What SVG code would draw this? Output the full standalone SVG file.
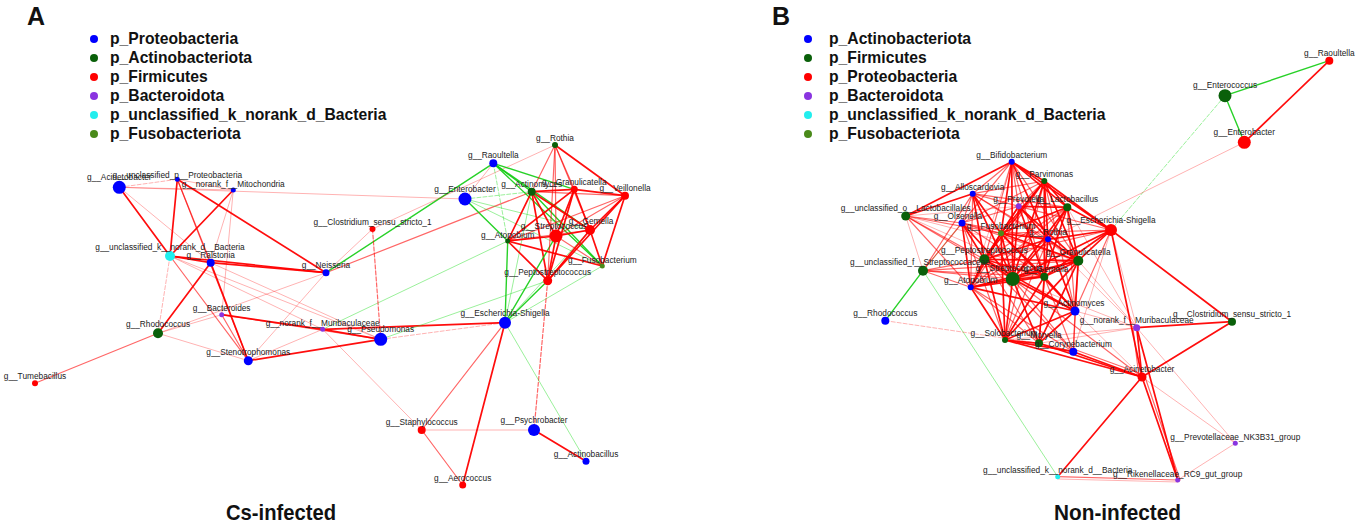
<svg xmlns="http://www.w3.org/2000/svg" width="1358" height="525" viewBox="0 0 1358 525">
<style>
text{font-family:"Liberation Sans",Arial,sans-serif;}
.lab{font-size:8.3px;fill:#222;text-anchor:middle;}
.leg{font-size:15.7px;font-weight:bold;fill:#111;}
.ttl{font-size:22px;font-weight:bold;fill:#111;}
.pl{font-size:25px;font-weight:bold;fill:#111;}
line{fill:none;stroke-linecap:round;}
.r1{stroke:#ff0000;stroke-width:1.7;stroke-opacity:0.95;}
.r2{stroke:#ff0000;stroke-width:1.2;stroke-opacity:0.6;}
.r3{stroke:#ff0000;stroke-width:1;stroke-opacity:0.3;}
.g1{stroke:#11cc11;stroke-width:1.4;stroke-opacity:0.9;}
.g2{stroke:#22dd22;stroke-width:1;stroke-opacity:0.45;}
.d{stroke-dasharray:4 2;}
.bl{fill:#0000ff;}
.dg{fill:#0a600a;}
.rd{fill:#ff0000;}
.pu{fill:#8a34e0;}
.cy{fill:#22eeee;}
.ol{fill:#4a8a1a;}
</style>
<rect width="1358" height="525" fill="#ffffff"/>

<g id="connectors">
<g id="edges-a">
<line class="r3 d" x1="119.3" y1="187.3" x2="177.3" y2="179.3"/>
<line class="r3" x1="119.3" y1="187.3" x2="233.3" y2="190"/>
<line class="r3" x1="119.3" y1="187.3" x2="465" y2="199"/>
<line class="r1" x1="119.3" y1="187.3" x2="170" y2="256"/>
<line class="r3" x1="119.3" y1="187.3" x2="210.7" y2="262.7"/>
<line class="r1" x1="177.3" y1="179.3" x2="170" y2="256"/>
<line class="r1" x1="177.3" y1="179.3" x2="326" y2="272.7"/>
<line class="r2" x1="177.3" y1="179.3" x2="210.7" y2="262.7"/>
<line class="r3" x1="177.3" y1="179.3" x2="233.3" y2="190"/>
<line class="r2" x1="177.3" y1="179.3" x2="248.3" y2="360.7"/>
<line class="r1" x1="233.3" y1="190" x2="170" y2="256"/>
<line class="r3" x1="233.3" y1="190" x2="221.7" y2="314.7"/>
<line class="r3" x1="233.3" y1="190" x2="210.7" y2="262.7"/>
<line class="r1" x1="170" y1="256" x2="210.7" y2="262.7"/>
<line class="r1" x1="170" y1="256" x2="326" y2="272.7"/>
<line class="r3 d" x1="170" y1="256" x2="158" y2="333.3"/>
<line class="r2" x1="170" y1="256" x2="248.3" y2="360.7"/>
<line class="r3" x1="170" y1="256" x2="322.7" y2="329.3"/>
<line class="r3" x1="170" y1="256" x2="380.7" y2="339.3"/>
<line class="r1" x1="210.7" y1="262.7" x2="326" y2="272.7"/>
<line class="r1" x1="210.7" y1="262.7" x2="158" y2="333.3"/>
<line class="r1" x1="210.7" y1="262.7" x2="248.3" y2="360.7"/>
<line class="r3" x1="210.7" y1="262.7" x2="380.7" y2="339.3"/>
<line class="r1" x1="221.7" y1="314.7" x2="322.7" y2="329.3"/>
<line class="r3" x1="221.7" y1="314.7" x2="158" y2="333.3"/>
<line class="r2" x1="221.7" y1="314.7" x2="248.3" y2="360.7"/>
<line class="r2" x1="221.7" y1="314.7" x2="380.7" y2="339.3"/>
<line class="r3" x1="158" y1="333.3" x2="326" y2="272.7"/>
<line class="r3" x1="158" y1="333.3" x2="248.3" y2="360.7"/>
<line class="r2" x1="158" y1="333.3" x2="35" y2="383.3"/>
<line class="r1" x1="322.7" y1="329.3" x2="380.7" y2="339.3"/>
<line class="r3" x1="322.7" y1="329.3" x2="248.3" y2="360.7"/>
<line class="r3" x1="322.7" y1="329.3" x2="421.7" y2="430"/>
<line class="r1" x1="322.7" y1="329.3" x2="505" y2="322.7"/>
<line class="g2" x1="322.7" y1="329.3" x2="507.7" y2="241"/>
<line class="r1" x1="248.3" y1="360.7" x2="380.7" y2="339.3"/>
<line class="r3" x1="248.3" y1="360.7" x2="326" y2="272.7"/>
<line class="r2" x1="326" y1="272.7" x2="531.7" y2="191.7"/>
<line class="g1" x1="326" y1="272.7" x2="493.3" y2="163.3"/>
<line class="r3" x1="326" y1="272.7" x2="372.5" y2="229"/>
<line class="r2 d" x1="372.5" y1="229" x2="380.7" y2="339.3"/>
<line class="r3" x1="372.5" y1="229" x2="555" y2="145"/>
<line class="r3 d" x1="380.7" y1="339.3" x2="505" y2="322.7"/>
<line class="g2" x1="380.7" y1="339.3" x2="547.7" y2="280.7"/>
<line class="r3" x1="465" y1="199" x2="493.3" y2="163.3"/>
<line class="g1" x1="465" y1="199" x2="507.7" y2="241"/>
<line class="g2 d" x1="465" y1="199" x2="531.7" y2="191.7"/>
<line class="g2" x1="465" y1="199" x2="590" y2="230"/>
<line class="g2" x1="465" y1="199" x2="602.3" y2="266"/>
<line class="g1" x1="493.3" y1="163.3" x2="531.7" y2="191.7"/>
<line class="g1" x1="493.3" y1="163.3" x2="574.3" y2="189.3"/>
<line class="g1" x1="493.3" y1="163.3" x2="590" y2="230"/>
<line class="g2 d" x1="493.3" y1="163.3" x2="507.7" y2="241"/>
<line class="g1" x1="493.3" y1="163.3" x2="602.3" y2="266"/>
<line class="r1" x1="531.7" y1="191.7" x2="556" y2="236"/>
<line class="r1" x1="531.7" y1="191.7" x2="590" y2="230"/>
<line class="r1" x1="531.7" y1="191.7" x2="574.3" y2="189.3"/>
<line class="r2" x1="531.7" y1="191.7" x2="625" y2="195.7"/>
<line class="r1" x1="531.7" y1="191.7" x2="547.7" y2="280.7"/>
<line class="r1" x1="531.7" y1="191.7" x2="507.7" y2="241"/>
<line class="g1" x1="531.7" y1="191.7" x2="602.3" y2="266"/>
<line class="g1" x1="505" y1="322.7" x2="556" y2="236"/>
<line class="g1" x1="505" y1="322.7" x2="547.7" y2="280.7"/>
<line class="g1" x1="505" y1="322.7" x2="507.7" y2="241"/>
<line class="g2" x1="505" y1="322.7" x2="531.7" y2="191.7"/>
<line class="g2" x1="505" y1="322.7" x2="590" y2="230"/>
<line class="g2" x1="505" y1="322.7" x2="602.3" y2="266"/>
<line class="r2" x1="555" y1="145" x2="574.3" y2="189.3"/>
<line class="r2" x1="555" y1="145" x2="556" y2="236"/>
<line class="r2" x1="555" y1="145" x2="547.7" y2="280.7"/>
<line class="r1" x1="555" y1="145" x2="625" y2="195.7"/>
<line class="r2" x1="555" y1="145" x2="590" y2="230"/>
<line class="r2" x1="555" y1="145" x2="531.7" y2="191.7"/>
<line class="r1" x1="574.3" y1="189.3" x2="625" y2="195.7"/>
<line class="r1" x1="574.3" y1="189.3" x2="556" y2="236"/>
<line class="r1" x1="574.3" y1="189.3" x2="590" y2="230"/>
<line class="r1" x1="574.3" y1="189.3" x2="507.7" y2="241"/>
<line class="r1" x1="574.3" y1="189.3" x2="547.7" y2="280.7"/>
<line class="r2" x1="625" y1="195.7" x2="556" y2="236"/>
<line class="r1" x1="625" y1="195.7" x2="590" y2="230"/>
<line class="r1" x1="625" y1="195.7" x2="602.3" y2="266"/>
<line class="r1" x1="625" y1="195.7" x2="547.7" y2="280.7"/>
<line class="r2" x1="625" y1="195.7" x2="507.7" y2="241"/>
<line class="r1" x1="556" y1="236" x2="590" y2="230"/>
<line class="r1" x1="556" y1="236" x2="507.7" y2="241"/>
<line class="r1" x1="556" y1="236" x2="547.7" y2="280.7"/>
<line class="r2" x1="556" y1="236" x2="602.3" y2="266"/>
<line class="r2" x1="590" y1="230" x2="507.7" y2="241"/>
<line class="r1" x1="590" y1="230" x2="547.7" y2="280.7"/>
<line class="r1" x1="590" y1="230" x2="602.3" y2="266"/>
<line class="r1" x1="507.7" y1="241" x2="547.7" y2="280.7"/>
<line class="r1" x1="507.7" y1="241" x2="602.3" y2="266"/>
<line class="r2 d" x1="547.7" y1="280.7" x2="534" y2="430"/>
<line class="r2" x1="505" y1="322.7" x2="421.7" y2="430"/>
<line class="r1" x1="505" y1="322.7" x2="462.7" y2="485"/>
<line class="g2" x1="505" y1="322.7" x2="586" y2="461.3"/>
<line class="r3" x1="421.7" y1="430" x2="534" y2="430"/>
<line class="r2" x1="421.7" y1="430" x2="462.7" y2="485"/>
<line class="r1" x1="534" y1="430" x2="586" y2="461.3"/>
</g>
<g id="edges-b">
<line class="g1" x1="1225" y1="95.7" x2="1329.3" y2="60.7"/>
<line class="g1" x1="1225" y1="95.7" x2="1244.3" y2="142.3"/>
<line class="r1" x1="1329.3" y1="60.7" x2="1244.3" y2="142.3"/>
<line class="g2 d" x1="1225" y1="95.7" x2="1111" y2="230"/>
<line class="r3" x1="1244.3" y1="142.3" x2="1048" y2="239.3"/>
<line class="g1" x1="885.3" y1="320.7" x2="923" y2="270.7"/>
<line class="g2" x1="923" y1="270.7" x2="1057.7" y2="476.7"/>
<line class="g2" x1="923" y1="270.7" x2="962" y2="223"/>
<line class="r3 d" x1="885.3" y1="320.7" x2="1039" y2="343.3"/>
<line class="r1" x1="1011.7" y1="161.7" x2="905.7" y2="216"/>
<line class="r2" x1="1011.7" y1="161.7" x2="972.7" y2="193.7"/>
<line class="r1" x1="1011.7" y1="161.7" x2="1044.3" y2="181"/>
<line class="r2" x1="1011.7" y1="161.7" x2="1018.7" y2="206.3"/>
<line class="r1" x1="1011.7" y1="161.7" x2="1067.3" y2="207.3"/>
<line class="r2" x1="1011.7" y1="161.7" x2="962" y2="223"/>
<line class="r1" x1="1011.7" y1="161.7" x2="1001" y2="233.3"/>
<line class="r1" x1="1011.7" y1="161.7" x2="1048" y2="239.3"/>
<line class="r2" x1="1011.7" y1="161.7" x2="984.3" y2="259.3"/>
<line class="r1" x1="1011.7" y1="161.7" x2="1012.7" y2="279"/>
<line class="r2" x1="1011.7" y1="161.7" x2="1044.3" y2="276.7"/>
<line class="r2" x1="1011.7" y1="161.7" x2="1078.3" y2="260.7"/>
<line class="r1" x1="1011.7" y1="161.7" x2="1111" y2="230"/>
<line class="r3" x1="1011.7" y1="161.7" x2="970.7" y2="287.3"/>
<line class="r2" x1="1044.3" y1="181" x2="972.7" y2="193.7"/>
<line class="r2" x1="1044.3" y1="181" x2="1018.7" y2="206.3"/>
<line class="r1" x1="1044.3" y1="181" x2="1067.3" y2="207.3"/>
<line class="r1" x1="1044.3" y1="181" x2="1001" y2="233.3"/>
<line class="r1" x1="1044.3" y1="181" x2="1048" y2="239.3"/>
<line class="r1" x1="1044.3" y1="181" x2="984.3" y2="259.3"/>
<line class="r1" x1="1044.3" y1="181" x2="1012.7" y2="279"/>
<line class="r1" x1="1044.3" y1="181" x2="1044.3" y2="276.7"/>
<line class="r1" x1="1044.3" y1="181" x2="1078.3" y2="260.7"/>
<line class="r1" x1="1044.3" y1="181" x2="1111" y2="230"/>
<line class="r2" x1="1044.3" y1="181" x2="970.7" y2="287.3"/>
<line class="r2" x1="1044.3" y1="181" x2="962" y2="223"/>
<line class="r2" x1="1044.3" y1="181" x2="1075" y2="311"/>
<line class="r2" x1="1044.3" y1="181" x2="1005" y2="340"/>
<line class="r1" x1="972.7" y1="193.7" x2="905.7" y2="216"/>
<line class="r2" x1="972.7" y1="193.7" x2="962" y2="223"/>
<line class="r2" x1="972.7" y1="193.7" x2="1018.7" y2="206.3"/>
<line class="r1" x1="972.7" y1="193.7" x2="1001" y2="233.3"/>
<line class="r1" x1="972.7" y1="193.7" x2="984.3" y2="259.3"/>
<line class="r1" x1="972.7" y1="193.7" x2="1012.7" y2="279"/>
<line class="r2" x1="972.7" y1="193.7" x2="1067.3" y2="207.3"/>
<line class="r2" x1="972.7" y1="193.7" x2="1048" y2="239.3"/>
<line class="r2" x1="972.7" y1="193.7" x2="1078.3" y2="260.7"/>
<line class="r2" x1="972.7" y1="193.7" x2="970.7" y2="287.3"/>
<line class="r2" x1="972.7" y1="193.7" x2="923" y2="270.7"/>
<line class="r1" x1="1018.7" y1="206.3" x2="1067.3" y2="207.3"/>
<line class="r1" x1="1018.7" y1="206.3" x2="1001" y2="233.3"/>
<line class="r1" x1="1018.7" y1="206.3" x2="1048" y2="239.3"/>
<line class="r1" x1="1018.7" y1="206.3" x2="1012.7" y2="279"/>
<line class="r1" x1="1018.7" y1="206.3" x2="1044.3" y2="276.7"/>
<line class="r1" x1="1018.7" y1="206.3" x2="1078.3" y2="260.7"/>
<line class="r2" x1="1018.7" y1="206.3" x2="984.3" y2="259.3"/>
<line class="r2" x1="1018.7" y1="206.3" x2="1111" y2="230"/>
<line class="r2" x1="1018.7" y1="206.3" x2="962" y2="223"/>
<line class="r1" x1="1067.3" y1="207.3" x2="1111" y2="230"/>
<line class="r1" x1="1067.3" y1="207.3" x2="1048" y2="239.3"/>
<line class="r1" x1="1067.3" y1="207.3" x2="1078.3" y2="260.7"/>
<line class="r1" x1="1067.3" y1="207.3" x2="1012.7" y2="279"/>
<line class="r1" x1="1067.3" y1="207.3" x2="1044.3" y2="276.7"/>
<line class="r1" x1="1067.3" y1="207.3" x2="1001" y2="233.3"/>
<line class="r2" x1="1067.3" y1="207.3" x2="984.3" y2="259.3"/>
<line class="r2" x1="1067.3" y1="207.3" x2="1075" y2="311"/>
<line class="r2" x1="1067.3" y1="207.3" x2="970.7" y2="287.3"/>
<line class="r3" x1="1067.3" y1="207.3" x2="1136.7" y2="327.7"/>
<line class="r2" x1="905.7" y1="216" x2="962" y2="223"/>
<line class="r2" x1="905.7" y1="216" x2="984.3" y2="259.3"/>
<line class="r3" x1="905.7" y1="216" x2="923" y2="270.7"/>
<line class="r2" x1="905.7" y1="216" x2="1012.7" y2="279"/>
<line class="r2" x1="905.7" y1="216" x2="970.7" y2="287.3"/>
<line class="r2" x1="905.7" y1="216" x2="1001" y2="233.3"/>
<line class="r3" x1="905.7" y1="216" x2="1018.7" y2="206.3"/>
<line class="r3" x1="905.7" y1="216" x2="1044.3" y2="276.7"/>
<line class="r3" x1="905.7" y1="216" x2="1078.3" y2="260.7"/>
<line class="r2" x1="962" y1="223" x2="1001" y2="233.3"/>
<line class="r1" x1="962" y1="223" x2="984.3" y2="259.3"/>
<line class="r1" x1="962" y1="223" x2="1012.7" y2="279"/>
<line class="r1" x1="962" y1="223" x2="970.7" y2="287.3"/>
<line class="r2" x1="962" y1="223" x2="923" y2="270.7"/>
<line class="r2" x1="962" y1="223" x2="1048" y2="239.3"/>
<line class="r2" x1="962" y1="223" x2="1078.3" y2="260.7"/>
<line class="r2" x1="962" y1="223" x2="1044.3" y2="276.7"/>
<line class="r2" x1="962" y1="223" x2="1005" y2="340"/>
<line class="r1" x1="1111" y1="230" x2="1048" y2="239.3"/>
<line class="r1" x1="1111" y1="230" x2="1078.3" y2="260.7"/>
<line class="r1" x1="1111" y1="230" x2="1012.7" y2="279"/>
<line class="r1" x1="1111" y1="230" x2="1044.3" y2="276.7"/>
<line class="r2" x1="1111" y1="230" x2="1001" y2="233.3"/>
<line class="r2" x1="1111" y1="230" x2="1075" y2="311"/>
<line class="r1" x1="1111" y1="230" x2="1142" y2="377"/>
<line class="r1" x1="1111" y1="230" x2="1232" y2="321.7"/>
<line class="r3" x1="1111" y1="230" x2="1136.7" y2="327.7"/>
<line class="r3" x1="1111" y1="230" x2="1073.3" y2="351.7"/>
<line class="r2" x1="1111" y1="230" x2="984.3" y2="259.3"/>
<line class="r1" x1="1001" y1="233.3" x2="1048" y2="239.3"/>
<line class="r1" x1="1001" y1="233.3" x2="984.3" y2="259.3"/>
<line class="r1" x1="1001" y1="233.3" x2="1012.7" y2="279"/>
<line class="r1" x1="1001" y1="233.3" x2="1044.3" y2="276.7"/>
<line class="r1" x1="1001" y1="233.3" x2="1078.3" y2="260.7"/>
<line class="r1" x1="1001" y1="233.3" x2="970.7" y2="287.3"/>
<line class="r1" x1="1001" y1="233.3" x2="1075" y2="311"/>
<line class="r1" x1="1001" y1="233.3" x2="1005" y2="340"/>
<line class="r1" x1="1048" y1="239.3" x2="984.3" y2="259.3"/>
<line class="r1" x1="1048" y1="239.3" x2="1012.7" y2="279"/>
<line class="r1" x1="1048" y1="239.3" x2="1044.3" y2="276.7"/>
<line class="r1" x1="1048" y1="239.3" x2="1078.3" y2="260.7"/>
<line class="r2" x1="1048" y1="239.3" x2="970.7" y2="287.3"/>
<line class="r1" x1="1048" y1="239.3" x2="1075" y2="311"/>
<line class="r2" x1="1048" y1="239.3" x2="1005" y2="340"/>
<line class="r2" x1="1048" y1="239.3" x2="1039" y2="343.3"/>
<line class="r2" x1="984.3" y1="259.3" x2="923" y2="270.7"/>
<line class="r1" x1="984.3" y1="259.3" x2="1012.7" y2="279"/>
<line class="r1" x1="984.3" y1="259.3" x2="1044.3" y2="276.7"/>
<line class="r1" x1="984.3" y1="259.3" x2="1078.3" y2="260.7"/>
<line class="r1" x1="984.3" y1="259.3" x2="970.7" y2="287.3"/>
<line class="r1" x1="984.3" y1="259.3" x2="1075" y2="311"/>
<line class="r1" x1="984.3" y1="259.3" x2="1005" y2="340"/>
<line class="r2" x1="984.3" y1="259.3" x2="1039" y2="343.3"/>
<line class="r2" x1="984.3" y1="259.3" x2="1073.3" y2="351.7"/>
<line class="r1" x1="1078.3" y1="260.7" x2="1012.7" y2="279"/>
<line class="r1" x1="1078.3" y1="260.7" x2="1044.3" y2="276.7"/>
<line class="r1" x1="1078.3" y1="260.7" x2="970.7" y2="287.3"/>
<line class="r1" x1="1078.3" y1="260.7" x2="1075" y2="311"/>
<line class="r1" x1="1078.3" y1="260.7" x2="1005" y2="340"/>
<line class="r1" x1="1078.3" y1="260.7" x2="1039" y2="343.3"/>
<line class="r2" x1="1078.3" y1="260.7" x2="1073.3" y2="351.7"/>
<line class="r3" x1="1078.3" y1="260.7" x2="1136.7" y2="327.7"/>
<line class="r2" x1="923" y1="270.7" x2="1012.7" y2="279"/>
<line class="r2" x1="923" y1="270.7" x2="970.7" y2="287.3"/>
<line class="r2" x1="923" y1="270.7" x2="1044.3" y2="276.7"/>
<line class="r2" x1="923" y1="270.7" x2="1078.3" y2="260.7"/>
<line class="r1" x1="1012.7" y1="279" x2="1044.3" y2="276.7"/>
<line class="r1" x1="1012.7" y1="279" x2="970.7" y2="287.3"/>
<line class="r1" x1="1012.7" y1="279" x2="1075" y2="311"/>
<line class="r1" x1="1012.7" y1="279" x2="1005" y2="340"/>
<line class="r1" x1="1012.7" y1="279" x2="1039" y2="343.3"/>
<line class="r2" x1="1012.7" y1="279" x2="1073.3" y2="351.7"/>
<line class="r2" x1="1012.7" y1="279" x2="1142" y2="377"/>
<line class="r1" x1="1044.3" y1="276.7" x2="970.7" y2="287.3"/>
<line class="r1" x1="1044.3" y1="276.7" x2="1075" y2="311"/>
<line class="r1" x1="1044.3" y1="276.7" x2="1005" y2="340"/>
<line class="r1" x1="1044.3" y1="276.7" x2="1039" y2="343.3"/>
<line class="r2" x1="1044.3" y1="276.7" x2="1073.3" y2="351.7"/>
<line class="r1" x1="970.7" y1="287.3" x2="1075" y2="311"/>
<line class="r1" x1="970.7" y1="287.3" x2="1005" y2="340"/>
<line class="r2" x1="970.7" y1="287.3" x2="1039" y2="343.3"/>
<line class="r2" x1="970.7" y1="287.3" x2="1073.3" y2="351.7"/>
<line class="r1" x1="1075" y1="311" x2="1005" y2="340"/>
<line class="r1" x1="1075" y1="311" x2="1039" y2="343.3"/>
<line class="r2" x1="1075" y1="311" x2="1073.3" y2="351.7"/>
<line class="r3" x1="1075" y1="311" x2="1136.7" y2="327.7"/>
<line class="r3" x1="1075" y1="311" x2="1142" y2="377"/>
<line class="r1" x1="1005" y1="340" x2="1039" y2="343.3"/>
<line class="r1" x1="1005" y1="340" x2="1073.3" y2="351.7"/>
<line class="r1" x1="1005" y1="340" x2="1142" y2="377"/>
<line class="r2" x1="1039" y1="343.3" x2="1073.3" y2="351.7"/>
<line class="r1" x1="1039" y1="343.3" x2="1142" y2="377"/>
<line class="r1" x1="1073.3" y1="351.7" x2="1142" y2="377"/>
<line class="r2" x1="1073.3" y1="349" x2="1142" y2="374"/>
<line class="r1" x1="1136.7" y1="327.7" x2="1142" y2="377"/>
<line class="r2" x1="1133" y1="328" x2="1139" y2="377"/>
<line class="r1" x1="1136.7" y1="327.7" x2="1232" y2="321.7"/>
<line class="r1" x1="1136.7" y1="327.7" x2="1177.7" y2="480"/>
<line class="r3" x1="1136.7" y1="327.7" x2="1235.3" y2="443.3"/>
<line class="r3" x1="1136.7" y1="327.7" x2="1005" y2="340"/>
<line class="r3" x1="1136.7" y1="327.7" x2="1039" y2="343.3"/>
<line class="r3" x1="1136.7" y1="327.7" x2="1048" y2="239.3"/>
<line class="r3" x1="1136.7" y1="327.7" x2="1012.7" y2="279"/>
<line class="r1" x1="1232" y1="321.7" x2="1142" y2="377"/>
<line class="r1" x1="1142" y1="377" x2="1057.7" y2="476.7"/>
<line class="r1" x1="1142" y1="377" x2="1177.7" y2="480"/>
<line class="r2" x1="1145" y1="377" x2="1180" y2="480"/>
<line class="r3" x1="1142" y1="377" x2="1235.3" y2="443.3"/>
<line class="r2" x1="1057.7" y1="476.7" x2="1177.7" y2="480"/>
<line class="r3" x1="1057.7" y1="479" x2="1177.7" y2="482"/>
<line class="r3" x1="1177.7" y1="480" x2="1235.3" y2="443.3"/>
</g>
</g>

<g id="legend-a">
<text class="pl" x="27" y="25">A</text>
<circle class="bl" cx="94" cy="39" r="4"/><text class="leg" x="110" y="44">p_Proteobacteria</text>
<circle class="dg" cx="94" cy="58" r="4"/><text class="leg" x="110" y="63">p_Actinobacteriota</text>
<circle class="rd" cx="94" cy="77" r="4"/><text class="leg" x="110" y="82">p_Firmicutes</text>
<circle class="pu" cx="94" cy="96" r="4"/><text class="leg" x="110" y="101">p_Bacteroidota</text>
<circle class="cy" cx="94" cy="115" r="4"/><text class="leg" x="110" y="120">p_unclassified_k_norank_d_Bacteria</text>
<circle class="ol" cx="94" cy="134" r="4"/><text class="leg" x="110" y="139">p_Fusobacteriota</text>
</g>
<g id="legend-b">
<text class="pl" x="772" y="25">B</text>
<circle class="bl" cx="808" cy="39" r="4"/><text class="leg" x="829" y="44">p_Actinobacteriota</text>
<circle class="dg" cx="808" cy="58" r="4"/><text class="leg" x="829" y="63">p_Firmicutes</text>
<circle class="rd" cx="808" cy="77" r="4"/><text class="leg" x="829" y="82">p_Proteobacteria</text>
<circle class="pu" cx="808" cy="96" r="4"/><text class="leg" x="829" y="101">p_Bacteroidota</text>
<circle class="cy" cx="808" cy="115" r="4"/><text class="leg" x="829" y="120">p_unclassified_k_norank_d_Bacteria</text>
<circle class="ol" cx="808" cy="134" r="4"/><text class="leg" x="829" y="139">p_Fusobacteriota</text>
</g>

<g id="nodes-a">
<g id="a-acinetobacter"><circle class="bl" cx="119.3" cy="187.3" r="6.5"/><text class="lab" x="119.3" y="179.8">g__Acinetobacter</text></g>
<g id="a-unclassified-proteobacteria"><circle class="bl" cx="177.3" cy="179.3" r="2.5"/><text class="lab" x="177.3" y="177.5">g__unclassified_p__Proteobacteria</text></g>
<g id="a-mitochondria"><circle class="bl" cx="233.3" cy="190" r="2.5"/><text class="lab" x="233.3" y="187">g__norank_f__Mitochondria</text></g>
<g id="a-unclassified-bacteria"><circle class="cy" cx="170" cy="256" r="5"/><text class="lab" x="170" y="250">g__unclassified_k__norank_d__Bacteria</text></g>
<g id="a-ralstonia"><circle class="bl" cx="210.7" cy="262.7" r="4"/><text class="lab" x="210.7" y="257.7">g__Ralstonia</text></g>
<g id="a-neisseria"><circle class="bl" cx="326" cy="272.7" r="3.5"/><text class="lab" x="326" y="268.2">g__Neisseria</text></g>
<g id="a-clostridium"><circle class="rd" cx="372.5" cy="229" r="3"/><text class="lab" x="372.5" y="225">g__Clostridium_sensu_stricto_1</text></g>
<g id="a-bacteroides"><circle class="pu" cx="221.7" cy="314.7" r="2.5"/><text class="lab" x="221.7" y="311.2">g__Bacteroides</text></g>
<g id="a-rhodococcus"><circle class="dg" cx="158" cy="333.3" r="5"/><text class="lab" x="158" y="327.3">g__Rhodococcus</text></g>
<g id="a-muribaculaceae"><circle class="pu" cx="322.7" cy="329.3" r="2.5"/><text class="lab" x="322.7" y="325.8">g__norank_f__Muribaculaceae</text></g>
<g id="a-pseudomonas"><circle class="bl" cx="380.7" cy="339.3" r="6.5"/><text class="lab" x="380.7" y="331.8">g__Pseudomonas</text></g>
<g id="a-stenotrophomonas"><circle class="bl" cx="248.3" cy="360.7" r="4.5"/><text class="lab" x="248.3" y="355.2">g__Stenotrophomonas</text></g>
<g id="a-tumebacillus"><circle class="rd" cx="35" cy="383.3" r="3"/><text class="lab" x="35" y="379.3">g__Tumebacillus</text></g>
<g id="a-rothia"><circle class="dg" cx="555" cy="145" r="3"/><text class="lab" x="555" y="141">g__Rothia</text></g>
<g id="a-raoultella"><circle class="bl" cx="493.3" cy="163.3" r="4"/><text class="lab" x="493.3" y="158.3">g__Raoultella</text></g>
<g id="a-enterobacter"><circle class="bl" cx="465" cy="199" r="6.5"/><text class="lab" x="465" y="191.5">g__Enterobacter</text></g>
<g id="a-actinomyces"><circle class="dg" cx="531.7" cy="191.7" r="4"/><text class="lab" x="531.7" y="186.7">g__Actinomyces</text></g>
<g id="a-granulicatella"><circle class="rd" cx="574.3" cy="189.3" r="3.5"/><text class="lab" x="574.3" y="184.8">g__Granulicatella</text></g>
<g id="a-veillonella"><circle class="rd" cx="625" cy="195.7" r="4"/><text class="lab" x="625" y="190.7">g__Veillonella</text></g>
<g id="a-streptococcus"><circle class="rd" cx="556" cy="236" r="6.5"/><text class="lab" x="554" y="228.5">g__Streptococcus</text></g>
<g id="a-gemella"><circle class="rd" cx="590" cy="230" r="5"/><text class="lab" x="591" y="224">g__Gemella</text></g>
<g id="a-atopobium"><circle class="dg" cx="507.7" cy="241" r="2.5"/><text class="lab" x="507.7" y="237.5">g__Atopobium</text></g>
<g id="a-fusobacterium"><circle class="ol" cx="602.3" cy="266" r="2.5"/><text class="lab" x="602.3" y="262.5">g__Fusobacterium</text></g>
<g id="a-peptostreptococcus"><circle class="rd" cx="547.7" cy="280.7" r="4.5"/><text class="lab" x="547.7" y="275.2">g__Peptostreptococcus</text></g>
<g id="a-escherichia"><circle class="bl" cx="505" cy="322.7" r="6"/><text class="lab" x="505" y="315.7">g__Escherichia-Shigella</text></g>
<g id="a-staphylococcus"><circle class="rd" cx="421.7" cy="430" r="4"/><text class="lab" x="421.7" y="425">g__Staphylococcus</text></g>
<g id="a-psychrobacter"><circle class="bl" cx="534" cy="430" r="6"/><text class="lab" x="534" y="423">g__Psychrobacter</text></g>
<g id="a-actinobacillus"><circle class="bl" cx="586" cy="461.3" r="3.5"/><text class="lab" x="586" y="456.8">g__Actinobacillus</text></g>
<g id="a-aerococcus"><circle class="rd" cx="462.7" cy="485" r="3.5"/><text class="lab" x="462.7" y="480.5">g__Aerococcus</text></g>
</g>

<g id="nodes-b">
<g id="b-raoultella"><circle class="rd" cx="1329.3" cy="60.7" r="4"/><text class="lab" x="1329.3" y="55.7">g__Raoultella</text></g>
<g id="b-enterococcus"><circle class="dg" cx="1225" cy="95.7" r="6.5"/><text class="lab" x="1225" y="88.2">g__Enterococcus</text></g>
<g id="b-enterobacter"><circle class="rd" cx="1244.3" cy="142.3" r="6.5"/><text class="lab" x="1244.3" y="134.8">g__Enterobacter</text></g>
<g id="b-bifidobacterium"><circle class="bl" cx="1011.7" cy="161.7" r="3"/><text class="lab" x="1011.7" y="157.7">g__Bifidobacterium</text></g>
<g id="b-parvimonas"><circle class="dg" cx="1044.3" cy="181" r="3"/><text class="lab" x="1044.3" y="177">g__Parvimonas</text></g>
<g id="b-alloscardovia"><circle class="bl" cx="972.7" cy="193.7" r="3"/><text class="lab" x="972.7" y="189.7">g__Alloscardovia</text></g>
<g id="b-prevotella"><circle class="pu" cx="1018.7" cy="206.3" r="3"/><text class="lab" x="1018.7" y="202.3">g__Prevotella</text></g>
<g id="b-lactobacillus"><circle class="dg" cx="1067.3" cy="207.3" r="4"/><text class="lab" x="1067.3" y="202.3">g__Lactobacillus</text></g>
<g id="b-unclassified-lactobacillales"><circle class="dg" cx="905.7" cy="216" r="4.5"/><text class="lab" x="905.7" y="210.5">g__unclassified_o__Lactobacillales</text></g>
<g id="b-olsenella"><circle class="bl" cx="962" cy="223" r="3.5"/><text class="lab" x="958" y="218.5">g__Olsenella</text></g>
<g id="b-escherichia"><circle class="rd" cx="1111" cy="230" r="6"/><text class="lab" x="1111" y="223">g__Escherichia-Shigella</text></g>
<g id="b-fusobacterium"><circle class="ol" cx="1001" cy="233.3" r="3"/><text class="lab" x="1001" y="229.3">g__Fusobacterium</text></g>
<g id="b-rothia"><circle class="bl" cx="1048" cy="239.3" r="3"/><text class="lab" x="1048" y="235.3">g__Rothia</text></g>
<g id="b-peptostreptococcus"><circle class="dg" cx="984.3" cy="259.3" r="5"/><text class="lab" x="984.3" y="253.3">g__Peptostreptococcus</text></g>
<g id="b-granulicatella"><circle class="dg" cx="1078.3" cy="260.7" r="5"/><text class="lab" x="1078.3" y="254.7">g__Granulicatella</text></g>
<g id="b-unclassified-streptococcaceae"><circle class="dg" cx="923" cy="270.7" r="5"/><text class="lab" x="920" y="264.7">g__unclassified_f__Streptococcaceae</text></g>
<g id="b-streptococcus"><circle class="dg" cx="1012.7" cy="279" r="7"/><text class="lab" x="1009" y="271">g__Streptococcus</text></g>
<g id="b-gemella"><circle class="dg" cx="1044.3" cy="276.7" r="4"/><text class="lab" x="1046" y="271.7">g__Gemella</text></g>
<g id="b-atopobium"><circle class="bl" cx="970.7" cy="287.3" r="3"/><text class="lab" x="970.7" y="283.3">g__Atopobium</text></g>
<g id="b-actinomyces"><circle class="bl" cx="1075" cy="311" r="4.5"/><text class="lab" x="1074" y="305.5">g__Actinomyces</text></g>
<g id="b-rhodococcus"><circle class="bl" cx="885.3" cy="320.7" r="4"/><text class="lab" x="885.3" y="315.7">g__Rhodococcus</text></g>
<g id="b-solobacterium"><circle class="dg" cx="1005" cy="340" r="3"/><text class="lab" x="1004" y="336">g__Solobacterium</text></g>
<g id="b-moryella"><circle class="dg" cx="1039" cy="343.3" r="4"/><text class="lab" x="1039" y="338.3">g__Moryella</text></g>
<g id="b-corynebacterium"><circle class="bl" cx="1073.3" cy="351.7" r="4"/><text class="lab" x="1073.3" y="346.7">g__Corynebacterium</text></g>
<g id="b-muribaculaceae"><circle class="pu" cx="1136.7" cy="327.7" r="3.5"/><text class="lab" x="1136.7" y="323.2">g__norank_f__Muribaculaceae</text></g>
<g id="b-clostridium"><circle class="dg" cx="1232" cy="321.7" r="4"/><text class="lab" x="1232" y="316.7">g__Clostridium_sensu_stricto_1</text></g>
<g id="b-acinetobacter"><circle class="rd" cx="1142" cy="377" r="4.5"/><text class="lab" x="1142" y="371.5">g__Acinetobacter</text></g>
<g id="b-prevotellaceae"><circle class="pu" cx="1235.3" cy="443.3" r="2.5"/><text class="lab" x="1235.3" y="439.8">g__Prevotellaceae_NK3B31_group</text></g>
<g id="b-unclassified-bacteria"><circle class="cy" cx="1057.7" cy="476.7" r="2.5"/><text class="lab" x="1057.7" y="473.2">g__unclassified_k__norank_d__Bacteria</text></g>
<g id="b-rikenellaceae"><circle class="pu" cx="1177.7" cy="480" r="2.5"/><text class="lab" x="1177.7" y="477">g__Rikenellaceae_RC9_gut_group</text></g>
</g>

<g id="titles">
<text class="ttl" x="226" y="520" textLength="110" lengthAdjust="spacingAndGlyphs">Cs-infected</text>
<text class="ttl" x="1054" y="520" textLength="127" lengthAdjust="spacingAndGlyphs">Non-infected</text>
</g>
</svg>
